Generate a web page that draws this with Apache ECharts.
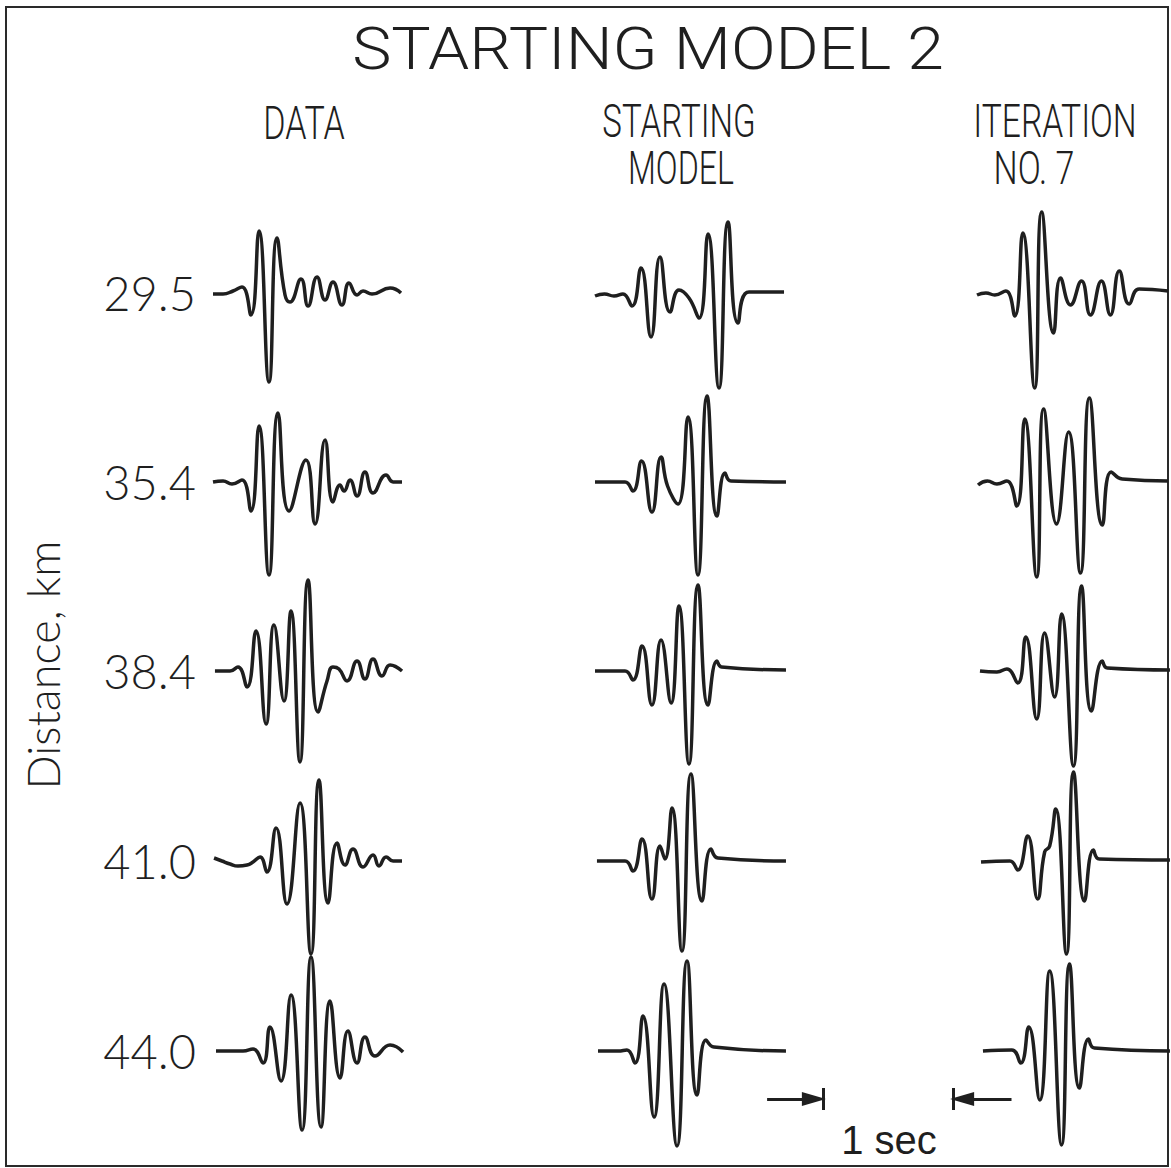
<!DOCTYPE html>
<html>
<head>
<meta charset="utf-8">
<script src="https://cdn.jsdelivr.net/npm/echarts@6/dist/echarts.min.js"></script>
<style>html,body{margin:0;padding:0;background:#fff}#c{width:1171px;height:1168px}</style>
</head>
<body>
<div id="c"></div>
<script>
// Distance labels (km)
const DISTANCES = ['29.5', '35.4', '38.4', '41.0', '44.0'];
const COLUMN_TITLES = ['DATA', 'STARTING MODEL', 'ITERATION NO. 7'];
const SCALE_BAR_SEC = [0, 1];

// Seismogram traces: [time (s), relative amplitude]
const data295 = [[0,-0.01],[0.077,-0.01],[0.154,0.02],[0.223,0.06],[0.292,-0.22],[0.354,0.62],[0.431,-0.89],[0.492,0.55],[0.554,-0.02],[0.592,-0.09],[0.677,0.14],[0.731,-0.13],[0.800,0.16],[0.862,-0.07],[0.923,0.11],[0.992,-0.12],[1.046,0.10],[1.108,-0.02],[1.154,0.02],[1.223,-0.01],[1.362,0.05],[1.446,0]];
const start295 = [[0,-0.03],[0.073,-0.01],[0.146,-0.03],[0.215,-0.01],[0.285,-0.13],[0.354,0.25],[0.431,-0.44],[0.500,0.36],[0.577,-0.19],[0.646,0.03],[0.723,-0.05],[0.800,-0.25],[0.869,0.59],[0.954,-0.95],[1.023,0.71],[1.100,-0.30],[1.185,0.01],[1.454,0.01]];
const iter295 = [[0,-0.02],[0.069,0],[0.138,-0.02],[0.223,0.02],[0.292,-0.23],[0.354,0.60],[0.446,-0.95],[0.500,0.81],[0.592,-0.40],[0.646,0.15],[0.723,-0.12],[0.808,0.12],[0.877,-0.22],[0.962,0.12],[1.031,-0.22],[1.100,0.22],[1.177,-0.11],[1.254,0.04],[1.477,0.02]];

const data354 = [[0,0],[0.077,0.01],[0.146,-0.02],[0.223,0.02],[0.292,-0.29],[0.354,0.56],[0.431,-0.93],[0.500,0.69],[0.585,-0.29],[0.715,0.22],[0.785,-0.42],[0.862,0.42],[0.923,-0.20],[0.977,-0.03],[1.008,-0.09],[1.054,0.02],[1.108,-0.14],[1.169,0.10],[1.231,-0.11],[1.331,0.07],[1.385,0],[1.454,0]];
const start354 = [[0,0],[0.231,0],[0.292,-0.09],[0.358,0.21],[0.438,-0.30],[0.508,0.25],[0.558,-0.04],[0.638,-0.22],[0.715,0.65],[0.792,-0.93],[0.862,0.86],[0.938,-0.34],[1.000,0.09],[1.046,0.01],[1.469,0]];
const iter354 = [[0.008,-0.03],[0.081,0.01],[0.154,-0.02],[0.231,0.01],[0.308,-0.24],[0.369,0.63],[0.462,-0.95],[0.515,0.73],[0.615,-0.42],[0.708,0.50],[0.800,-0.91],[0.869,0.84],[0.969,-0.43],[1.038,0.10],[1.123,0.03],[1.477,0.01]];

const data384 = [[0.015,0],[0.131,0],[0.192,0.04],[0.262,-0.16],[0.331,0.40],[0.408,-0.53],[0.469,0.46],[0.546,-0.30],[0.600,0.60],[0.669,-0.91],[0.731,0.91],[0.808,-0.41],[0.877,-0.10],[0.923,0.04],[0.969,0.02],[1.031,-0.10],[1.108,0.10],[1.169,-0.08],[1.231,0.12],[1.300,-0.05],[1.362,0.06],[1.454,0]];
const start384 = [[0,0],[0.231,0],[0.292,-0.09],[0.362,0.25],[0.438,-0.34],[0.508,0.31],[0.585,-0.32],[0.646,0.65],[0.723,-0.93],[0.792,0.86],[0.869,-0.34],[0.938,0.10],[0.973,0.04],[1.469,0.01]];
const iter384 = [[0.023,0],[0.154,-0.01],[0.231,0.02],[0.315,-0.12],[0.377,0.34],[0.462,-0.48],[0.523,0.38],[0.600,-0.26],[0.654,0.57],[0.746,-0.95],[0.808,0.85],[0.885,-0.40],[0.969,0.10],[1.008,0.03],[1.492,0.01]];

const data410 = [[0.008,0.03],[0.069,0],[0.131,-0.03],[0.192,-0.05],[0.262,-0.04],[0.308,-0.01],[0.362,0.04],[0.415,-0.11],[0.485,0.33],[0.569,-0.43],[0.669,0.58],[0.754,-0.93],[0.815,0.81],[0.885,-0.42],[0.954,0.18],[1.015,-0.04],[1.077,0.12],[1.154,-0.06],[1.231,0.06],[1.277,-0.05],[1.331,0.04],[1.385,0],[1.454,0]];
const start410 = [[0.015,0],[0.231,0],[0.292,-0.10],[0.362,0.22],[0.438,-0.38],[0.500,0.15],[0.538,0.02],[0.592,0.53],[0.669,-0.90],[0.738,0.87],[0.823,-0.40],[0.892,0.12],[0.946,0.03],[1.469,0]];
const iter410 = [[0.031,-0.01],[0.254,0],[0.315,-0.09],[0.392,0.25],[0.469,-0.38],[0.523,0.09],[0.562,0.15],[0.608,0.52],[0.692,-0.93],[0.746,0.89],[0.831,-0.40],[0.900,0.11],[0.946,0.02],[1.492,0.01]];

const data440 = [[0.023,0],[0.131,0],[0.231,0],[0.308,0.02],[0.385,-0.12],[0.438,0.24],[0.523,-0.30],[0.600,0.56],[0.685,-0.79],[0.754,0.94],[0.831,-0.76],[0.900,0.50],[0.977,-0.27],[1.038,0.20],[1.108,-0.12],[1.169,0.14],[1.246,-0.05],[1.362,0.06],[1.462,-0.01]];
const start440 = [[0.023,0],[0.177,0],[0.246,0.01],[0.308,-0.12],[0.369,0.35],[0.454,-0.66],[0.531,0.67],[0.631,-0.95],[0.708,0.90],[0.785,-0.44],[0.854,0.11],[0.915,0.04],[1.469,0]];
const iter440 = [[0.046,0],[0.269,0.01],[0.338,-0.12],[0.400,0.24],[0.485,-0.49],[0.562,0.80],[0.654,-0.94],[0.715,0.87],[0.792,-0.37],[0.862,0.12],[0.908,0.03],[1.492,0]];

const TRACES = [
  [data295, start295, iter295],
  [data354, start354, iter354],
  [data384, start384, iter384],
  [data410, start410, iter410],
  [data440, start440, iter440]
];

// ---- layout ----
const PX_PER_SEC = 130;
const T_MAX = 1.5;
const COL_LEFT = [213, 595, 977];
const ROW_BASE = [293, 482, 671, 861, 1051];
const AMP_PX = 100;
const INK = '#1f1f1f';

const grids = [], xAxes = [], yAxes = [], series = [];
TRACES.forEach((row, r) => {
  row.forEach((trace, c) => {
    const gi = grids.length;
    grids.push({left: COL_LEFT[c], top: ROW_BASE[r] - AMP_PX, width: T_MAX * PX_PER_SEC, height: 2 * AMP_PX});
    xAxes.push({gridIndex: gi, type: 'value', min: 0, max: T_MAX, show: false});
    const y = {gridIndex: gi, type: 'value', min: -1, max: 1, show: c === 0,
      axisLine: {show: false}, axisTick: {show: false}, axisLabel: {show: false}, splitLine: {show: false}};
    if (c === 0) {
      Object.assign(y, {name: DISTANCES[r], nameLocation: 'middle', nameRotate: 0, nameGap: 17,
        nameTextStyle: {fontFamily: 'Lato', fontWeight: 300, fontSize: 47, color: INK, align: 'right', verticalAlign: 'middle'}});
    }
    yAxes.push(y);
    series.push({type: 'line', xAxisIndex: gi, yAxisIndex: gi, data: trace, smooth: 0.5,
      showSymbol: false, symbol: 'none', clip: false, silent: true,
      lineStyle: {color: INK, width: 3.5}});
  });
});

// scale bar grid
const sg = grids.length;
grids.push({left: 823 - 0.5 * PX_PER_SEC, top: 1088, width: 2 * PX_PER_SEC, height: 22});
xAxes.push({gridIndex: sg, type: 'value', min: -0.5, max: 1.5, show: false});
yAxes.push({gridIndex: sg, type: 'value', min: -1, max: 1, show: false});
series.push({type: 'line', xAxisIndex: sg, yAxisIndex: sg, data: [], silent: true,
  markLine: {silent: true, animation: false, label: {show: false}, symbol: ['none', 'none'],
    lineStyle: {color: INK, width: 3, type: 'solid'}, emphasis: {disabled: true},
    data: [
      [{coord: [SCALE_BAR_SEC[0] - 0.43, 0]}, {coord: [SCALE_BAR_SEC[0] - 0.07, 0], symbol: 'triangle', symbolSize: [14, 24], symbolRotate: -90}],
      [{coord: [SCALE_BAR_SEC[0], -1]}, {coord: [SCALE_BAR_SEC[0], 1]}],
      [{coord: [SCALE_BAR_SEC[1], -1]}, {coord: [SCALE_BAR_SEC[1], 1]}],
      [{coord: [SCALE_BAR_SEC[1] + 0.45, 0]}, {coord: [SCALE_BAR_SEC[1] + 0.07, 0], symbol: 'triangle', symbolSize: [14, 24], symbolRotate: 90}]
    ]}});

function label(text, x, y, size, scaleX, opts) {
  return Object.assign({type: 'text', x: x, y: y, scaleX: scaleX || 1, silent: true,
    style: {text: text, x: 0, y: 0, align: 'center', verticalAlign: 'middle',
      fontFamily: 'Roboto', fontWeight: 300, fontSize: size, fill: INK}}, opts || {});
}

const chart = echarts.init(document.getElementById('c'), null, {renderer: 'svg'});
chart.setOption({
  animation: false,
  backgroundColor: '#fff',
  grid: grids, xAxis: xAxes, yAxis: yAxes, series: series,
  graphic: [
    {type: 'rect', silent: true, shape: {x: 6, y: 7, width: 1162, height: 1159},
      style: {fill: 'none', stroke: '#2a2a2a', lineWidth: 2}},
    label('STARTING MODEL 2', 648, 48, 60, 1.1),
    label(COLUMN_TITLES[0], 304, 123, 46, 0.74),
    label('STARTING', 679, 122, 46, 0.72),
    label('MODEL', 681, 168, 46, 0.7),
    label('ITERATION', 1055, 122, 46, 0.73),
    label('NO. 7', 1034, 168, 46, 0.74),
    Object.assign(label('Distance, km', 43, 665, 44, 1), {rotation: Math.PI / 2,
      style: {text: 'Distance, km', x: 0, y: 0, align: 'center', verticalAlign: 'middle', fontFamily: 'Lato', fontWeight: 300, fontSize: 45, fill: INK}}),
    {type: 'text', x: 889, y: 1140, silent: true,
      style: {text: '1 sec', x: 0, y: 0, align: 'center', verticalAlign: 'middle', fontFamily: 'Liberation Sans', fontSize: 40, fill: INK}}
  ]
});
</script>
</body>
</html>
